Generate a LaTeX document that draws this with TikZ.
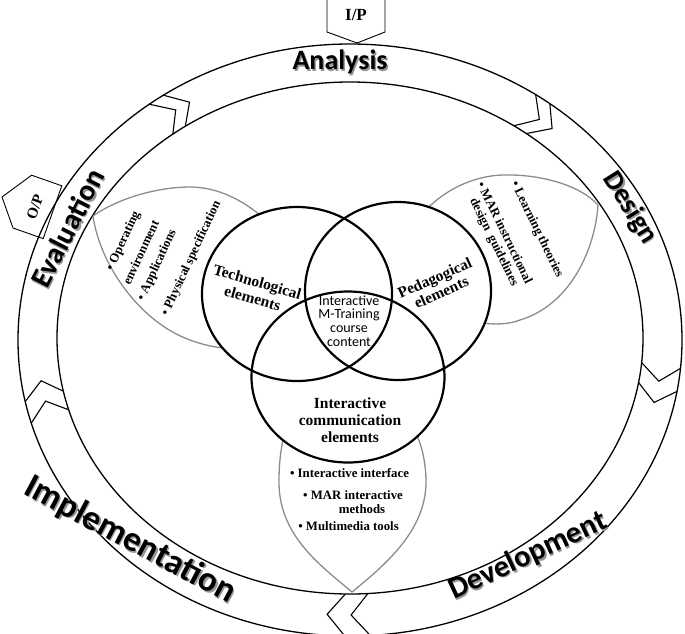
\documentclass[tikz,border=0pt]{standalone}
\usepackage{fontspec}
\setmainfont{Liberation Serif}
\newfontfamily\calfont{Carlito}
\usetikzlibrary{shapes.geometric}
\definecolor{petalgray}{RGB}{140,140,140}
\definecolor{shadowgray}{RGB}{150,150,150}
\begin{document}
\begin{tikzpicture}[x=1pt,y=-1pt,
  ring/.style={line width=1.3pt},
  venn/.style={draw, line width=2.2pt, ellipse, inner sep=0pt, minimum width=190pt, minimum height=174pt},
  petal/.style={draw=petalgray, line width=1.3pt},
  chev/.style={line width=1.1pt},
  ioshape/.style={draw, line width=0.9pt, fill=white},
  ringtxt/.style={font=\calfont\bfseries\fontsize{28}{30}\selectfont, inner sep=0pt},
  ringshadow/.style={ringtxt, text=shadowgray},
  iotxt/.style={font=\bfseries\fontsize{17}{19}\selectfont, inner sep=0pt},
  ptxt/.style={font=\bfseries\fontsize{12.8}{14}\selectfont, inner sep=0pt, anchor=west},
  btxt/.style={font=\bfseries\fontsize{12.8}{14}\selectfont, inner sep=0pt},
  vtxt/.style={font=\bfseries\fontsize{15.5}{18}\selectfont, inner sep=0pt, align=center},
  ctxt/.style={font=\calfont\fontsize{14}{13.7}\selectfont, inner sep=0pt, align=center},
]
\useasboundingbox (0,0) rectangle (685,633);

% input / output tags
\draw[ioshape] (327,-1) -- (385,-1) -- (385,32) -- (357,43) -- (327,32) -- cycle;
\node[iotxt] (ip) at (356,15) {I/P};
\draw[ioshape] (61.8,185.8) -- (31.6,175.2) -- (2,197) -- (13,228) -- (43.2,238.6) -- cycle;
\node[iotxt, font=\bfseries\fontsize{15}{17}\selectfont, rotate=70] (op) at (35,207) {O/P};

% ring
\draw[ring] (350,340) ellipse [x radius=332pt, y radius=296pt];
\draw[ring] (350,338) ellipse [x radius=293pt, y radius=256pt];

% chevrons on the ring
\foreach \t in {232.8,235.8,304,307,5.5,10,86.5,90.9,163.7,168}{
  \draw[chev] ({350+332*cos(\t)},{340+296*sin(\t)}) -- ({350+312.5*cos(\t+3.3)},{339+276*sin(\t+3.3)}) -- ({350+293*cos(\t)},{338+256*sin(\t)});
}

% ring labels (with shadow)
\node[ringshadow] at (341.5,63.5) {Analysis};
\node[ringtxt] (analysis) at (340,62) {Analysis};
\node[ringshadow, rotate=-58] at (631.5,209.5) {Design};
\node[ringtxt, rotate=-58] (design) at (630,208) {Design};
\tikzset{devfont/.style={font=\calfont\bfseries\fontsize{30.5}{32}\selectfont}}
\node[ringshadow, devfont, rotate=25] at (529.5,557.5) {Development};
\node[ringtxt, devfont, rotate=25] (development) at (528,556) {Development};
\tikzset{impfont/.style={font=\calfont\bfseries\fontsize{35}{37}\selectfont}}
\node[ringshadow, impfont, rotate=-28] at (131.5,541.5) {Implementation};
\node[ringtxt, impfont, rotate=-28] (implementation) at (130,540) {Implementation};
\tikzset{evafont/.style={font=\calfont\bfseries\fontsize{29.5}{31}\selectfont}}
\node[ringshadow, evafont, rotate=63] at (68.5,229.5) {Evaluation};
\node[ringtxt, evafont, rotate=63] (evaluation) at (67,228) {Evaluation};

% petals
\draw[petal] (93,216) .. controls (120,197) and (160,187) .. (190,187) .. controls (230,187) and (270,215) .. (300,260);
\draw[petal] (93,216) .. controls (100,265) and (140,322) .. (190,340) .. controls (230,355) and (270,350) .. (300,330);
\draw[petal] (598,205) .. controls (580,185) and (540,174) .. (503,175) .. controls (465,176) and (420,200) .. (400,250);
\draw[petal] (598,205) .. controls (595,250) and (570,305) .. (520,320) .. controls (495,330) and (450,320) .. (420,300);
\draw[petal] (352,592) .. controls (320,565) and (278,535) .. (279,480) .. controls (279,450) and (285,420) .. (300,400);
\draw[petal] (352,592) .. controls (385,565) and (427,530) .. (426,480) .. controls (425,440) and (410,420) .. (395,400);

% petal texts
\node[ptxt, rotate=65] (p1) at (110,270) {\textbullet\ Operating};
\node[ptxt, rotate=65] (p2) at (126,284) {environment};
\node[ptxt, rotate=65] (p3) at (141,300) {\textbullet\ Applications};
\node[ptxt, rotate=65] (p4) at (165,315) {\textbullet\ Physical specification};
\node[ptxt, rotate=-64] (q1) at (513.7,182.3) {\textbullet\ Learning theories};
\node[ptxt, rotate=-64] (q2) at (480.7,182.3) {\textbullet\ MAR instructional};
\node[ptxt, rotate=-64] (q3) at (472.5,199) {design\ \ guidelines};
\node[btxt] (b1) at (349.5,473) {\textbullet\ Interactive interface};
\node[btxt] (b2) at (353,495) {\textbullet\ MAR interactive};
\node[btxt] (b3) at (362,509) {methods};
\node[btxt] (b4) at (348.5,526) {\textbullet\ Multimedia tools};

% Venn circles
\fill[white] (297,294) ellipse [x radius=95pt, y radius=87pt];
\fill[white] (398,291) ellipse [x radius=93pt, y radius=89pt];
\fill[white] (348,377) ellipse [x radius=96.5pt, y radius=85.5pt];
\node[venn] (tech) at (297,294) {};
\node[venn, minimum width=186pt, minimum height=178pt] (peda) at (398,291) {};
\node[venn, minimum width=193pt, minimum height=171pt] (comm) at (348,377) {};

% Venn texts
\node[vtxt, rotate=-16] (techtxt) at (255,290) {Technological\\[-1pt]elements};
\node[vtxt, rotate=24] (pedatxt) at (438,285) {Pedagogical\\[-2pt]elements};
\node[ctxt] (core) at (349,321) {Interactive\\M-Training\\course\\content};
\node[vtxt, font=\bfseries\fontsize{15.5}{17}\selectfont] (commtxt) at (350,420) {Interactive\\communication\\elements};
\end{tikzpicture}
\end{document}
